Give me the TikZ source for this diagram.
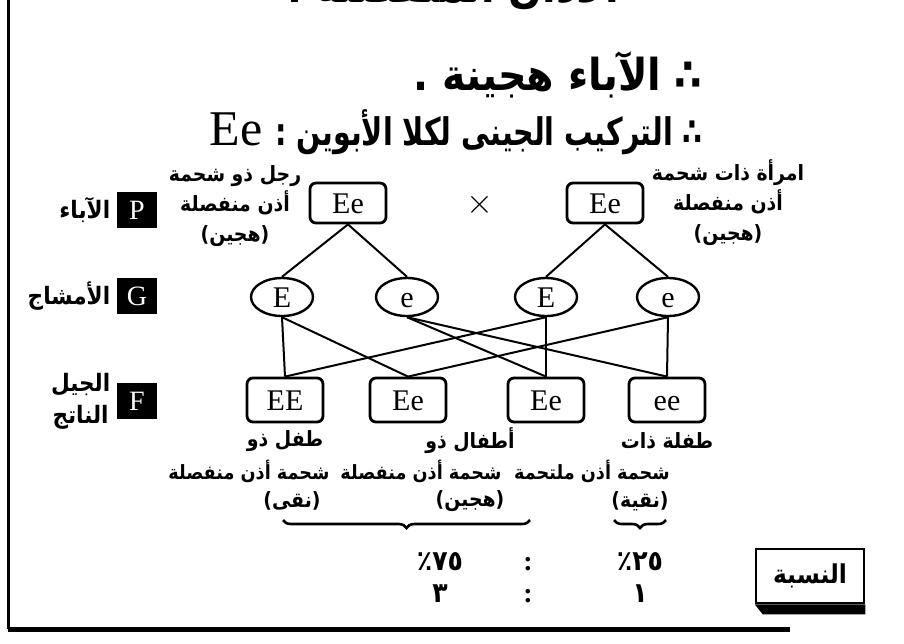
\documentclass[tikz,border=0pt]{standalone}
\usepackage{fontspec}
\setmainfont{Liberation Serif}
\newfontfamily\arabicfont[Script=Arabic,FakeStretch=0.9]{DejaVu Sans}
\newfontfamily\arabichead[Script=Arabic,FakeStretch=0.75]{DejaVu Sans}
\TeXXeTstate=1
\usetikzlibrary{shapes.geometric,decorations.pathreplacing}

\newcommand{\artxt}[1]{{\arabicfont\beginR #1\endR}}

\begin{document}
\begin{tikzpicture}[x=0.5pt,y=-0.5pt]
  \tikzset{parent box/.style={draw,line width=1.4pt,rounded corners=3pt,minimum width=38pt,minimum height=20pt,inner sep=0pt,text height=10pt,text depth=0pt,font=\fontsize{15}{15}\selectfont},
    gamete/.style={draw,ellipse,line width=1.2pt,minimum width=31pt,minimum height=19pt,inner sep=0pt,text height=10pt,text depth=0pt,font=\fontsize{15}{15}\selectfont},
    child box/.style={parent box,minimum width=38pt,minimum height=22pt},
    gen box/.style={fill=black,text=white,minimum width=20pt,minimum height=18pt,inner sep=0pt,text height=9pt,text depth=0pt,font=\fontsize{14}{14}\selectfont},
    arlabel/.style={align=center,inner sep=0pt,font=\fontsize{10.5}{15}\selectfont\bfseries},
    heading/.style={anchor=east,inner sep=0pt,font=\fontsize{22}{22}\selectfont\bfseries},
    num/.style={inner sep=0pt,font=\fontsize{14}{14}\selectfont\bfseries},
    link/.style={line width=1pt}}

  \useasboundingbox (0,0) rectangle (904,643);

  % page edge
  \draw[line width=1.5pt] (8,0) -- (8,629);
  \draw[line width=2.5pt] (8,629) -- (790,629);

  \node[heading] (topcut) at (620,-15) {\artxt{الأذان المنفصلة .}};
  \node[heading] (line1) at (703,75) {\artxt{∴ الآباء هجينة .}};
  \node[heading] (line2) at (703,132) {{\arabichead\fontsize{19}{19}\selectfont\bfseries\beginR ∴ التركيب الجينى لكلا الأبوين : \beginL{\mdseries\rmfamily\fontsize{25}{25}\selectfont Ee}\endL\endR}};

  % P G F
  \node[gen box] (P) at (137,210) {P};
  \node[gen box] (G) at (137,296) {G};
  \node[gen box] (F) at (137,401) {F};
  \node[arlabel,left,font=\fontsize{12}{16}\selectfont\bfseries] (Ptxt) at ([xshift=-3pt]P.west) {\artxt{الآباء}};
  \node[arlabel,left,font=\fontsize{12}{16}\selectfont\bfseries] (Gtxt) at ([xshift=-3pt]G.west) {\artxt{الأمشاج}};
  \node[arlabel,left,font=\fontsize{12}{16}\selectfont\bfseries] (Ftxt) at ([xshift=-3pt]F.west) {\artxt{الجيل}\\ \artxt{الناتج}};

  % parents
  \node[parent box] (P1) at (348,203) {Ee};
  \node[parent box] (P2) at (605,203) {Ee};
  \node (cross) at (480,205) {\fontsize{16}{16}\selectfont$\times$};
  \node[arlabel] (P1txt) at (235,206) {\artxt{رجل ذو شحمة}\\ \artxt{أذن منفصلة}\\ \artxt{(هجين)}};
  \node[arlabel] (P2txt) at (728,203) {\artxt{امرأة ذات شحمة}\\ \artxt{أذن منفصلة}\\ \artxt{(هجين)}};

  % gametes
  \node[gamete] (E1) at (282,297) {E};
  \node[gamete] (e1) at (407,297) {e};
  \node[gamete] (E2) at (546,297) {E};
  \node[gamete] (e2) at (668,297) {e};

  % offspring
  \node[child box] (EE) at (285,400) {EE};
  \node[child box] (Ee1) at (408,400) {Ee};
  \node[child box] (Ee2) at (546,400) {Ee};
  \node[child box] (ee) at (667,400) {ee};

  \draw[link] (P1.south) -- (E1.north);
  \draw[link] (P1.south) -- (e1.north);
  \draw[link] (P2.south) -- (E2.north);
  \draw[link] (P2.south) -- (e2.north);

  \draw[link] (E1.south) -- (EE.north);
  \draw[link] (E1.south) -- (Ee1.north);
  \draw[link] (e1.south) -- (Ee2.north);
  \draw[link] (e1.south) -- (ee.north);
  \draw[link] (E2.south) -- (EE.north);
  \draw[link] (E2.south) -- (Ee2.north);
  \draw[link] (e2.south) -- (Ee1.north);
  \draw[link] (e2.south) -- (ee.north);

  % descriptions
  \node[arlabel] (c1a) at (285,441) {\artxt{طفل ذو}};
  \node[arlabel] (c2a) at (470,441) {\artxt{أطفال ذو}};
  \node[arlabel] (c4a) at (667,441) {\artxt{طفلة ذات}};
  \node[arlabel,font=\fontsize{9.8}{14}\selectfont\bfseries] (c1b) at (249,471) {\artxt{شحمة أذن منفصلة}};
  \node[arlabel,font=\fontsize{9.8}{14}\selectfont\bfseries] (c2b) at (421,471) {\artxt{شحمة أذن منفصلة}};
  \node[arlabel,font=\fontsize{9.8}{14}\selectfont\bfseries] (c4b) at (592,471) {\artxt{شحمة أذن ملتحمة}};
  \node[arlabel] (c1c) at (292,501) {\artxt{(نقى)}};
  \node[arlabel] (c2c) at (470,501) {\artxt{(هجين)}};
  \node[arlabel] (c4c) at (640,501) {\artxt{(نقية)}};

  \coordinate (b1l) at (283,520);
  \coordinate (b1r) at (530,520);
  \coordinate (b2l) at (614,520);
  \coordinate (b2r) at (666,520);
  \draw[line width=1.3pt,decorate,decoration={brace,mirror,amplitude=4pt}] (b1l) -- (b1r);
  \draw[line width=1.3pt,decorate,decoration={brace,mirror,amplitude=4pt}] (b2l) -- (b2r);

  % ratio
  \node[num] (p75) at (440,562) {\arabicfont ٧٥٪};
  \node[num] (col1) at (528,564) {:};
  \node[num] (p25) at (640,562) {\arabicfont ٢٥٪};
  \node[num] (n3) at (440,594) {\arabicfont ٣};
  \node[num] (col2) at (528,596) {:};
  \node[num] (n1) at (640,594) {\arabicfont ١};

  \node[draw,line width=1.3pt,minimum width=54pt,minimum height=27pt,font=\fontsize{13}{13}\selectfont\bfseries] (ratio) at (810,576) {\artxt{النسبة}};
  \fill (ratio.south west) -- (ratio.south east) -- ([yshift=-5pt]ratio.south east) -- ([xshift=4pt,yshift=-5pt]ratio.south west) -- cycle;
\end{tikzpicture}
\end{document}
